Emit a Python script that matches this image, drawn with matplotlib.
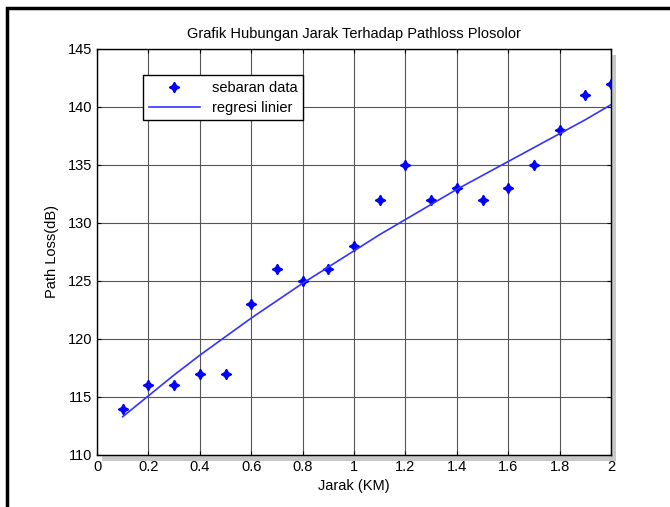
import numpy as np
import matplotlib.pyplot as plt
from matplotlib.patches import Rectangle

plt.rcParams['font.family'] = ['Liberation Sans', 'DejaVu Sans']

jarak = [0.1, 0.2, 0.3, 0.4, 0.5, 0.6, 0.7, 0.8, 0.9, 1.0,
         1.1, 1.2, 1.3, 1.4, 1.5, 1.6, 1.7, 1.8, 1.9, 2.0]
pathloss = [114, 116, 116, 117, 117, 123, 126, 125, 126, 128,
            132, 135, 132, 133, 132, 133, 135, 138, 141, 142]
regresi = [113.3, 115.1, 116.9, 118.6, 120.2, 121.8, 123.3, 124.8, 126.2, 127.6,
           129.0, 130.3, 131.6, 132.9, 134.1, 135.3, 136.5, 137.7, 138.9, 140.2]

x_ticks = [0, 0.2, 0.4, 0.6, 0.8, 1, 1.2, 1.4, 1.6, 1.8, 2]
x_labels = ['0', '0.2', '0.4', '0.6', '0.8', '1', '1.2', '1.4', '1.6', '1.8', '2']
y_ticks = [110, 115, 120, 125, 130, 135, 140, 145]

fig = plt.figure(figsize=(6.7, 5.07), dpi=100)
fig.patch.set_facecolor('white')

# outer window frame
fig.patches.append(Rectangle((0.010, -0.05), 1.05, 1.035, transform=fig.transFigure,
                             fill=False, edgecolor='black', lw=2.5, zorder=0))

ax = fig.add_axes([0.1448, 0.1026, 0.7672, 0.8008])

# shadow of the axes box
fig.patches.append(Rectangle((0.1448 + 0.008, 0.1026 - 0.012), 0.7672, 0.8008,
                             transform=fig.transFigure, facecolor='#c8c8c8',
                             edgecolor='none', zorder=-1))

ax.plot(jarak, pathloss, linestyle='none', marker=(4, 1, 0), markersize=7.5,
        color='blue', label='sebaran data')
ax.plot(jarak, regresi, color='#3333ff', lw=1.2, label='regresi linier')

ax.set_xlim(0, 2)
ax.set_ylim(110, 145)
ax.set_xticks(x_ticks)
ax.set_xticklabels(x_labels)
ax.set_yticks(y_ticks)
ax.grid(True, color='#555555', lw=0.8)
ax.tick_params(direction='in', labelsize=10.5, length=3, top=True, right=True)
for s in ax.spines.values():
    s.set_linewidth(1.0)

ax.set_title('Grafik Hubungan Jarak Terhadap Pathloss Plosolor', fontsize=10.5, pad=8)
ax.set_xlabel('Jarak (KM)', fontsize=10.5, labelpad=4)
ax.set_ylabel('Path Loss(dB)', fontsize=10.5, labelpad=6)

leg = ax.legend(loc='upper left', bbox_to_anchor=(0.0895, 0.936), borderaxespad=0,
                fancybox=False, framealpha=1, edgecolor='black', fontsize=10.5,
                handlelength=3.5, borderpad=0.4, labelspacing=0.4)
leg.get_frame().set_linewidth(1.0)

fig.savefig('out.png', dpi=100)
